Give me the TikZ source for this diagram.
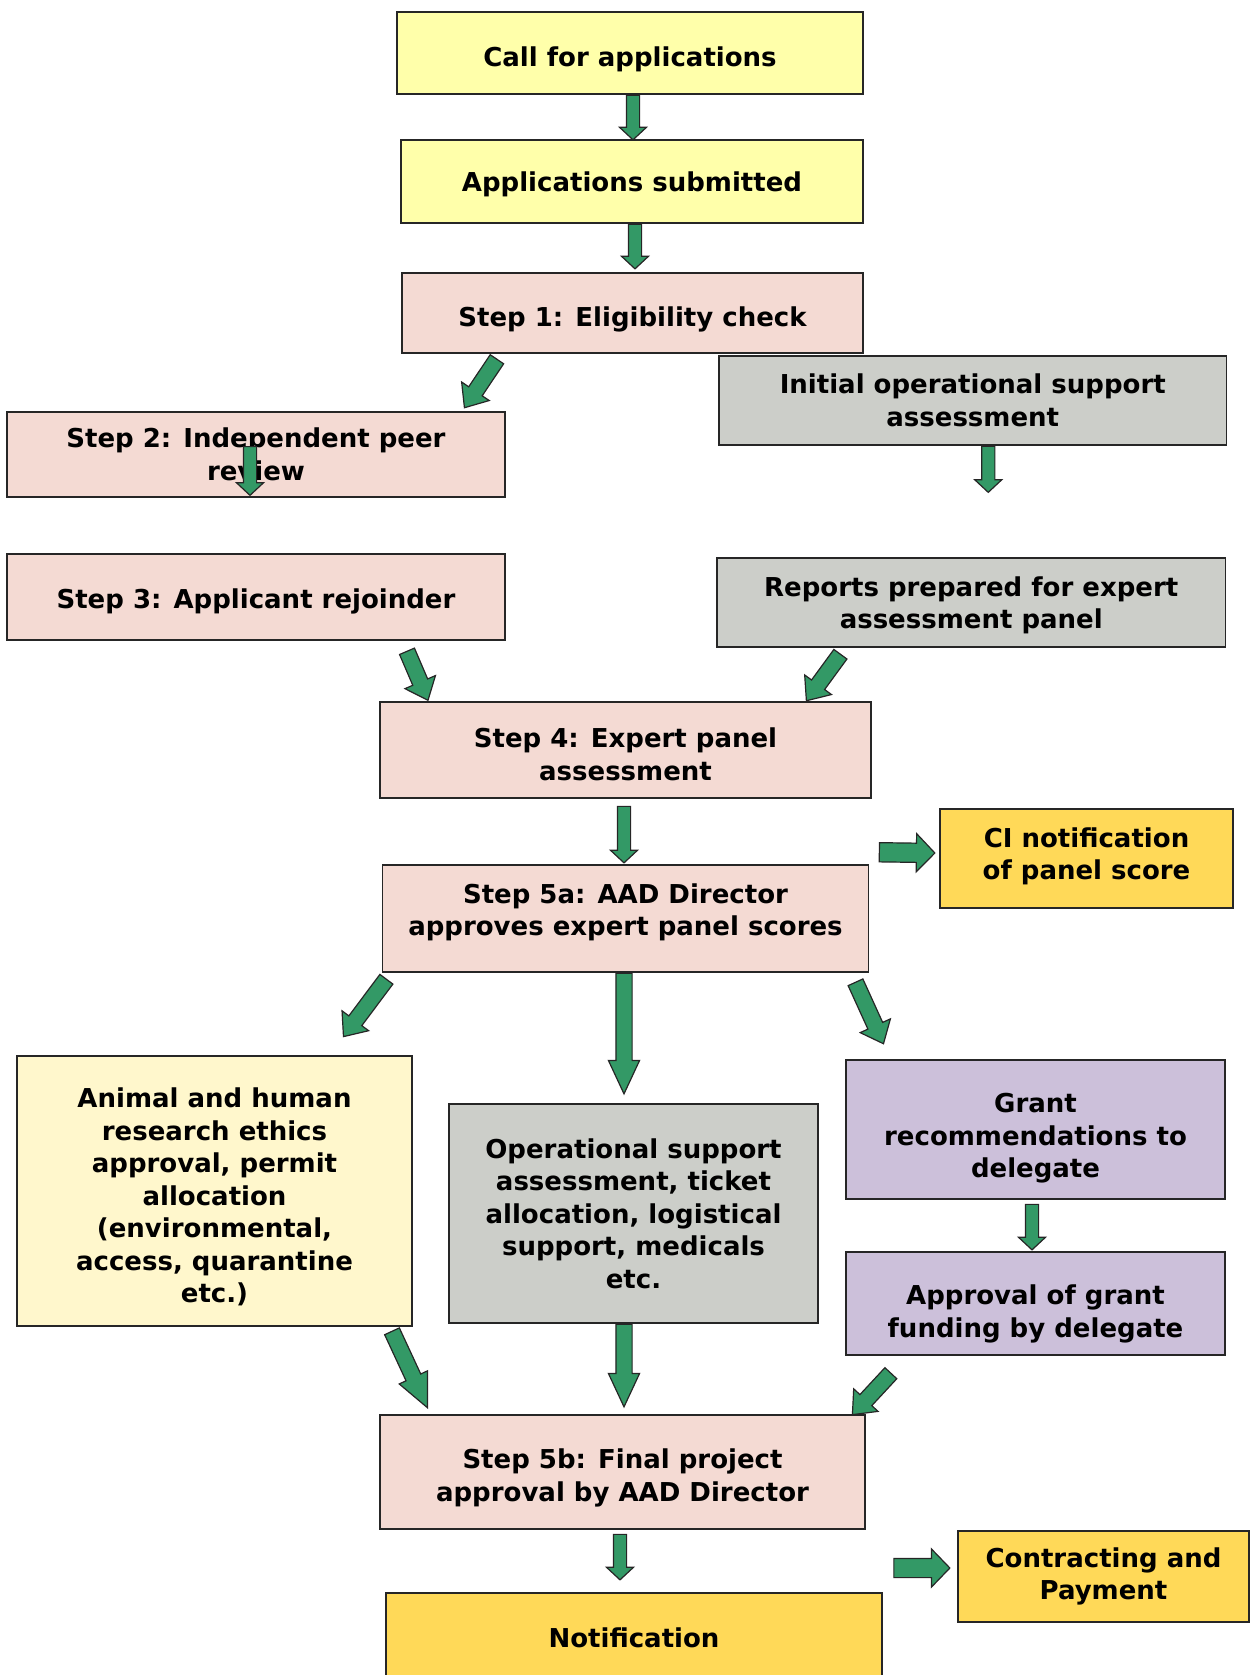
\documentclass[tikz,border=0pt]{standalone}
\usepackage{fontspec}
\setmainfont{DejaVu Sans}
\usetikzlibrary{calc,shapes.arrows}

\definecolor{callyellow}{HTML}{FFFFAA}
\definecolor{steppink}{HTML}{F4DAD3}
\definecolor{opsgray}{HTML}{CCCEC9}
\definecolor{ethicsyellow}{HTML}{FFF7CC}
\definecolor{grantlilac}{HTML}{CCC0DA}
\definecolor{notegold}{HTML}{FFD958}
\definecolor{arrowgreen}{HTML}{339966}

% block arrow from (anchor + offset) to (anchor + offset)
\newcommand{\garrow}[5][]{%
  \path let \p1=($(#2)+(#3)$), \p2=($(#4)+(#5)$),
    \n1={atan2(\y2-\y1,\x2-\x1)}, \n2={veclen(\x2-\x1,\y2-\y1)} in
    node[flow, #1, rotate=\n1, minimum height=\n2] at (\p1) {};}

\begin{document}
\begin{tikzpicture}[
  x=1pt, y=-1pt,
  font=\fontsize{26}{32.5}\selectfont\bfseries,
  box/.style={draw=black!85, line width=1.5pt, align=center, inner sep=0pt},
  flow/.style={single arrow, draw=black!85, fill=arrowgreen, line width=1.2pt,
    inner xsep=0pt, inner ysep=6pt, minimum width=0pt, single arrow head extend=7pt,
    single arrow tip angle=94, anchor=tail},
  fat/.style={inner ysep=9pt, single arrow head extend=9.5pt, single arrow tip angle=92},
  diag/.style={inner ysep=7.5pt, single arrow head extend=8.5pt, single arrow tip angle=80},
  sharp/.style={inner ysep=7.5pt, single arrow head extend=7.5pt, single arrow tip angle=50}
]
\useasboundingbox (0,0) rectangle (1250,1675);

\node[box, fill=callyellow, minimum width=466pt, minimum height=82pt, text height=26.2pt, text depth=0pt] (call) at (630,53) {Call for applications};
\node[box, fill=callyellow, minimum width=462pt, minimum height=83pt, text depth=0pt] (apps) at (632,181.5) {Applications submitted};
\node[box, fill=steppink, minimum width=461pt, minimum height=80pt, text height=26.2pt, text depth=0pt] (step1) at (632.5,313) {Step 1: Eligibility check};
\node[box, fill=steppink, minimum width=498pt, minimum height=85pt] (step2) at (256,454.5) {Step 2: Independent peer\\review};
\node[box, fill=steppink, minimum width=498pt, minimum height=86pt, text height=23.8pt, text depth=0pt] (step3) at (256,597) {Step 3: Applicant rejoinder};
\node[box, fill=opsgray, minimum width=507.5pt, minimum height=89pt] (initop) at (972.75,400.5) {Initial operational support\\assessment};
\node[box, fill=opsgray, minimum width=508.5pt, minimum height=89pt, text depth=0pt] (reports) at (971.25,602.5) {Reports prepared for expert\\assessment panel};
\node[box, fill=steppink, minimum width=491pt, minimum height=96pt, text height=60.9pt, text depth=0pt] (step4) at (625.5,750) {Step 4: Expert panel\\assessment};
\node[box, fill=steppink, minimum width=486pt, minimum height=107pt, text depth=17.5pt] (step5a) at (625.5,918.5) {Step 5a: AAD Director\\approves expert panel scores};
\node[box, fill=notegold, minimum width=293pt, minimum height=99pt, text depth=9.5pt] (ci) at (1086.5,858.5) {CI notification\\of panel score};
\node[box, fill=ethicsyellow, minimum width=395pt, minimum height=270pt, text height=223.4pt, text depth=0pt] (ethics) at (214.5,1191) {Animal and human\\research ethics\\approval, permit\\allocation\\(environmental,\\access, quarantine\\etc.)};
\node[box, fill=opsgray, minimum width=369pt, minimum height=219pt] (ops) at (633.5,1213.5) {Operational support\\assessment, ticket\\allocation, logistical\\support, medicals\\etc.};
\node[box, fill=grantlilac, minimum width=379pt, minimum height=139pt, text height=96.8pt, text depth=0pt] (grantrec) at (1035.5,1129.5) {Grant\\recommendations to\\delegate};
\node[box, fill=grantlilac, minimum width=379pt, minimum height=103pt, text height=67.3pt, text depth=0pt] (grantok) at (1035.5,1303.5) {Approval of grant\\funding by delegate};
\node[box, fill=steppink, minimum width=485pt, minimum height=114pt, text height=58.7pt, text depth=0pt] (step5b) at (622.5,1472) {Step 5b: Final project\\approval by AAD Director};
\node[box, fill=notegold, minimum width=496pt, minimum height=90pt] (notif) at (634,1638) {Notification};
\node[box, fill=notegold, minimum width=291pt, minimum height=91pt] (contract) at (1103.5,1576.5) {Contracting and\\Payment};

% arrows
\garrow{call.south}{3,0}{apps.north}{1,0}
\garrow{apps.south}{3,0}{step1.north}{2.5,-4}
\garrow[diag]{step1.south west}{96,5}{step2.north east}{-41,-4}
\garrow{step2.center}{-6,-8.5}{step2.south}{-6,-3}
\garrow{initop.south}{15.5,0}{initop.south}{15.5,46}
\garrow[diag]{step3.south east}{-99,10}{step4.north west}{48.5,-1.5}
\garrow[diag]{reports.south west}{124.5,6}{step4.north east}{-65,-1}
\garrow{step4.south}{-1.5,7}{step5a.north}{-1.5,-2}
\garrow[fat]{step5a.north east}{9.5,-12}{ci.west}{-5,-5.5}
\garrow[diag]{step5a.south west}{5,6}{ethics.north east}{-69,-19}
\garrow[sharp]{step5a.south}{-1.5,0}{ops.north}{-9.5,-10}
\garrow[diag]{step5a.south east}{-14,9}{grantrec.north west}{38,-16}
\garrow{grantrec.south}{-3.5,4}{grantok.north}{-3.5,-2}
\garrow[sharp]{ethics.south east}{-21,4}{step5b.north west}{48,-7}
\garrow[sharp]{ops.south}{-9.5,0}{step5b.north}{1.5,-8}
\garrow[diag]{grantok.south west}{46,17}{step5b.north east}{-13,0}
\garrow{step5b.south}{-2.5,4}{notif.north}{-14,-13}
\garrow[fat]{contract.west}{-64,-8.5}{contract.west}{-8,-8.5}
\end{tikzpicture}
\end{document}
